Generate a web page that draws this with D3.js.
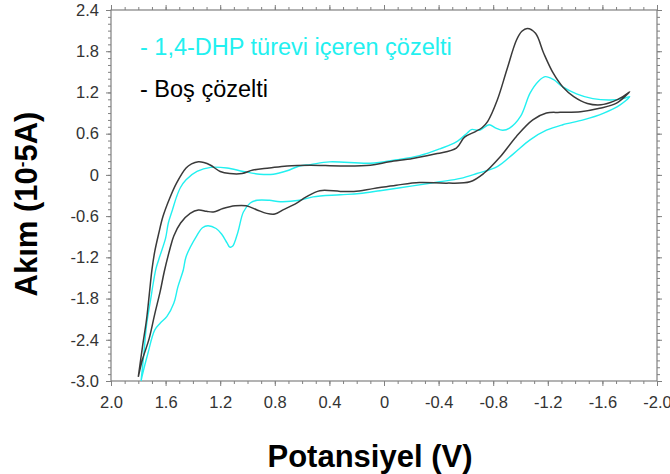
<!DOCTYPE html>
<meta charset="utf-8">
<script src="https://d3js.org/d3.v7.min.js"></script>
<style>
  body { margin: 0; background: #fff; }
  text { font-family: "Liberation Sans", Arial, sans-serif; }
</style>
<div id="chart"></div>
<script>

// axis ticks and labels
var xMajor = [2.0, 1.6, 1.2, 0.8, 0.4, 0, -0.4, -0.8, -1.2, -1.6, -2.0];
var xLabels = ["2.0", "1.6", "1.2", "0.8", "0.4", "0", "-0.4", "-0.8", "-1.2", "-1.6", "-2.0"];
var yMajor = [2.4, 1.8, 1.2, 0.6, 0, -0.6, -1.2, -1.8, -2.4, -3.0];
var yLabels = ["2.4", "1.8", "1.2", "0.6", "0", "-0.6", "-1.2", "-1.8", "-2.4", "-3.0"];

var legendLabels = ["- 1,4-DHP türevi içeren çözelti", "- Boş çözelti"];

// voltammogram of the 1,4-DHP solution: [potential V, current 10^-5 A]
var dhpCurve = [
  [1.78, -3.00], [1.76, -2.62], [1.74, -2.19], [1.71, -1.82], [1.69, -1.57],
  [1.67, -1.36], [1.64, -1.17], [1.60, -0.92], [1.58, -0.70], [1.55, -0.51],
  [1.52, -0.32], [1.49, -0.18], [1.45, -0.07], [1.37, 0.05], [1.27, 0.11],
  [1.15, 0.10], [1.03, 0.05], [0.91, 0.01], [0.81, 0.01], [0.71, 0.06],
  [0.62, 0.13], [0.54, 0.15], [0.40, 0.19], [0.10, 0.17], [-0.09, 0.22],
  [-0.26, 0.28], [-0.41, 0.38], [-0.53, 0.48], [-0.61, 0.61], [-0.64, 0.66],
  [-0.70, 0.65], [-0.77, 0.73], [-0.82, 0.68], [-0.87, 0.65], [-0.92, 0.68],
  [-1.00, 0.85], [-1.07, 1.19], [-1.13, 1.36], [-1.18, 1.43], [-1.24, 1.39],
  [-1.31, 1.28], [-1.41, 1.18], [-1.53, 1.11], [-1.66, 1.09], [-1.75, 1.11],
  [-1.80, 1.14],
  [-1.73, 1.02], [-1.61, 0.90], [-1.46, 0.80], [-1.31, 0.73], [-1.19, 0.65],
  [-1.07, 0.51], [-0.95, 0.31], [-0.83, 0.12], [-0.68, 0.02], [-0.56, -0.05],
  [-0.41, -0.10], [-0.21, -0.16], [0.03, -0.23], [0.18, -0.27], [0.32, -0.29],
  [0.52, -0.32], [0.62, -0.37], [0.76, -0.39], [0.84, -0.37], [0.93, -0.37],
  [0.98, -0.41], [1.03, -0.54], [1.07, -0.83], [1.11, -1.04], [1.13, -1.05],
  [1.15, -0.99], [1.19, -0.86], [1.23, -0.78], [1.29, -0.74], [1.33, -0.77],
  [1.37, -0.88], [1.45, -1.19], [1.47, -1.38], [1.51, -1.63], [1.54, -1.87],
  [1.59, -2.06], [1.64, -2.16], [1.68, -2.26], [1.73, -2.60], [1.77, -2.91],
  [1.78, -3.00]
];

// voltammogram of the blank solution
var blankCurve = [
  [1.80, -2.94], [1.77, -2.51], [1.74, -2.11], [1.72, -1.75], [1.70, -1.38],
  [1.68, -1.12], [1.65, -0.85], [1.62, -0.61], [1.57, -0.34], [1.52, -0.12],
  [1.45, 0.10], [1.41, 0.16], [1.36, 0.19], [1.32, 0.18], [1.27, 0.14],
  [1.20, 0.05], [1.13, 0.02], [1.04, 0.02], [0.96, 0.07], [0.84, 0.10],
  [0.71, 0.13], [0.54, 0.14], [0.32, 0.13], [0.10, 0.14], [-0.04, 0.19],
  [-0.21, 0.24], [-0.39, 0.31], [-0.53, 0.39], [-0.59, 0.55], [-0.67, 0.63],
  [-0.72, 0.69], [-0.76, 0.78], [-0.83, 1.09], [-0.90, 1.53], [-0.97, 1.96],
  [-1.01, 2.09], [-1.05, 2.13], [-1.11, 2.06], [-1.17, 1.77], [-1.24, 1.48],
  [-1.31, 1.28], [-1.39, 1.14], [-1.49, 1.04], [-1.59, 1.02], [-1.68, 1.07],
  [-1.75, 1.14], [-1.80, 1.21],
  [-1.70, 1.04], [-1.58, 0.97], [-1.44, 0.92], [-1.29, 0.91], [-1.19, 0.90],
  [-1.09, 0.80], [-0.97, 0.56], [-0.85, 0.26], [-0.73, 0.02], [-0.63, -0.10],
  [-0.46, -0.12], [-0.26, -0.11], [-0.09, -0.15], [0.08, -0.20], [0.22, -0.24],
  [0.32, -0.24], [0.47, -0.23], [0.57, -0.32], [0.64, -0.41], [0.74, -0.51],
  [0.80, -0.57], [0.86, -0.56], [0.93, -0.51], [1.01, -0.45], [1.09, -0.45],
  [1.18, -0.49], [1.25, -0.54], [1.30, -0.53], [1.36, -0.51], [1.42, -0.56],
  [1.49, -0.70], [1.54, -0.89], [1.57, -1.09], [1.61, -1.41], [1.64, -1.70],
  [1.68, -2.03], [1.72, -2.38], [1.77, -2.69], [1.80, -2.94]
];

var width = 670, height = 474;
var margin = {top: 10, right: 13, bottom: 93, left: 111};
var plotW = width - margin.left - margin.right,
    plotH = height - margin.top - margin.bottom;

var svg = d3.select("#chart")
  .append("svg")
    .attr("width", width)
    .attr("height", height);

var g = svg.append("g")
    .attr("transform", "translate(" + margin.left + "," + margin.top + ")");

var x = d3.scaleLinear().domain([2.0, -2.0]).range([0, plotW]);
var y = d3.scaleLinear().domain([-3.0, 2.4]).range([plotH, 0]);

var xMinor = d3.range(-20, 21).map(function(d) { return d / 10; });
var yMinor = d3.range(-30, 25).map(function(d) { return d / 10; });

var axisColor = "#808080";

function styleAxis(sel) {
  sel.select(".domain").remove();
  sel.selectAll(".tick line").attr("stroke", axisColor);
  sel.selectAll("text")
    .attr("fill", "#333")
    .style("font-size", "16.5px");
}

// minor ticks on all four sides
g.append("g").attr("transform", "translate(0," + plotH + ")")
  .call(d3.axisBottom(x).tickValues(xMinor).tickSize(3).tickFormat(""))
  .call(styleAxis);
g.append("g")
  .call(d3.axisTop(x).tickValues(xMinor).tickSize(3).tickFormat(""))
  .call(styleAxis);
g.append("g")
  .call(d3.axisLeft(y).tickValues(yMinor).tickSize(3).tickFormat(""))
  .call(styleAxis);
g.append("g").attr("transform", "translate(" + plotW + ",0)")
  .call(d3.axisRight(y).tickValues(yMinor).tickSize(3).tickFormat(""))
  .call(styleAxis);

// major ticks
g.append("g").attr("transform", "translate(0," + plotH + ")")
  .call(d3.axisBottom(x).tickValues(xMajor).tickSize(5).tickPadding(10)
    .tickFormat(function(d, i) { return xLabels[i]; }))
  .call(styleAxis);
g.append("g")
  .call(d3.axisTop(x).tickValues(xMajor).tickSize(5).tickFormat(""))
  .call(styleAxis);
g.append("g")
  .call(d3.axisLeft(y).tickValues(yMajor).tickSize(5).tickPadding(7)
    .tickFormat(function(d, i) { return yLabels[i]; }))
  .call(styleAxis);
g.append("g").attr("transform", "translate(" + plotW + ",0)")
  .call(d3.axisRight(y).tickValues(yMajor).tickSize(5).tickFormat(""))
  .call(styleAxis);

// frame
g.append("rect")
  .attr("width", plotW)
  .attr("height", plotH)
  .attr("fill", "none")
  .attr("stroke", axisColor)
  .attr("stroke-width", 1.2);

var line = d3.line()
  .x(function(d) { return x(d[0]); })
  .y(function(d) { return y(d[1]); })
  .curve(d3.curveCatmullRom.alpha(0.5));

g.append("path")
  .datum(dhpCurve)
  .attr("d", line)
  .attr("fill", "none")
  .attr("stroke", "#22f0f0")
  .attr("stroke-width", 1.4);

g.append("path")
  .datum(blankCurve)
  .attr("d", line)
  .attr("fill", "none")
  .attr("stroke", "#3a3a3a")
  .attr("stroke-width", 1.5);

// legend
g.append("text")
  .attr("x", 29).attr("y", 45)
  .attr("fill", "#22f0f0")
  .style("font-size", "23.5px")
  .text(legendLabels[0]);
g.append("text")
  .attr("x", 29).attr("y", 87)
  .attr("fill", "#000")
  .style("font-size", "23.5px")
  .text(legendLabels[1]);

// axis titles
svg.append("text")
  .attr("x", 370).attr("y", 467)
  .attr("text-anchor", "middle")
  .style("font-size", "31px")
  .style("font-weight", "bold")
  .text("Potansiyel (V)");

var yTitle = svg.append("text")
  .attr("transform", "translate(37,204) rotate(-90)")
  .attr("text-anchor", "middle")
  .style("font-size", "31px")
  .style("font-weight", "bold");
yTitle.append("tspan").text("Akım (10");
yTitle.append("tspan").attr("dy", -10).style("font-size", "17px").text("-");
yTitle.append("tspan").attr("dy", 10).text("5A)");

</script>
